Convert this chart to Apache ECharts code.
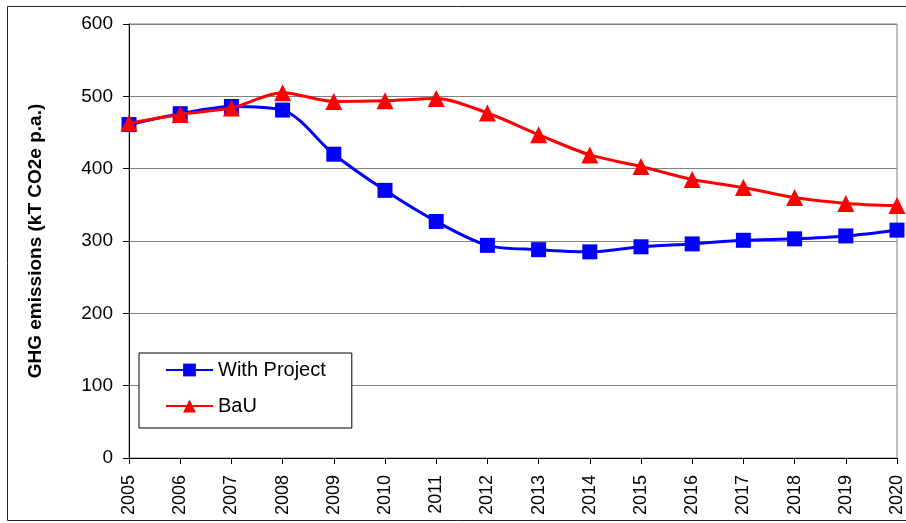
<!DOCTYPE html>
<html>
<head>
<meta charset="utf-8">
<script src="https://cdn.jsdelivr.net/npm/echarts@6/dist/echarts.min.js"></script>
<style>
  html, body { margin: 0; padding: 0; background: #fff; }
  #chart { width: 906px; height: 523px; }
</style>
</head>
<body>
<div id="chart"></div>
<script>
// years on the x axis
const years = ['2005', '2006', '2007', '2008', '2009', '2010', '2011', '2012',
               '2013', '2014', '2015', '2016', '2017', '2018', '2019', '2020'];
// With Project (kT CO2e p.a.)
const withProject = [461, 476, 486, 481, 420, 370, 327, 294,
                     288, 285, 292, 296, 301, 303, 307, 315];
// BaU (kT CO2e p.a.)
const bau = [463, 475, 484, 505, 493, 494, 497, 477,
             447, 419, 403, 385, 374, 360, 352, 349];
const yTicks = { min: 0, max: 600, interval: 100 };

const font = '"Liberation Sans", Arial, sans-serif';
const chart = echarts.init(document.getElementById('chart'));

chart.setOption({
    animation: false,
    backgroundColor: '#fff',
    grid: {
        left: 129,
        top: 24,
        right: 6,
        bottom: 65,
        show: true,
        borderColor: '#808080',
        borderWidth: 1
    },
    // outer chart-area frame
    graphic: [{
        type: 'rect',
        shape: { x: 7.5, y: 6.5, width: 920, height: 514 },
        style: { fill: 'none', stroke: '#222', lineWidth: 1 },
        z: -1
    }],
    legend: {
        orient: 'vertical',
        left: 139,
        top: 353,
        padding: [7, 26, 12, 26],
        itemGap: 16,
        itemWidth: 47,
        itemHeight: 16,
        borderColor: '#000',
        borderWidth: 1,
        backgroundColor: '#fff',
        textStyle: { fontFamily: font, fontSize: 20, color: '#000' },
        data: ['With Project', 'BaU']
    },
    xAxis: {
        type: 'category',
        data: years,
        boundaryGap: false,
        axisLine: { lineStyle: { color: '#000', width: 1 } },
        axisTick: { length: 6, lineStyle: { color: '#000' } },
        axisLabel: {
            rotate: 90,
            margin: 17,
            color: '#000',
            fontFamily: font,
            fontSize: 18,
            interval: 0
        },
        splitLine: { show: false }
    },
    yAxis: {
        type: 'value',
        min: yTicks.min,
        max: yTicks.max,
        interval: yTicks.interval,
        name: 'GHG emissions (kT CO2e p.a.)',
        nameLocation: 'middle',
        nameRotate: 90,
        nameGap: 84,
        nameTextStyle: { fontFamily: font, fontSize: 19, fontWeight: 'bold', color: '#000' },
        axisLine: { show: true, lineStyle: { color: '#000', width: 1 } },
        axisTick: { show: true, length: 6, lineStyle: { color: '#000' } },
        axisLabel: { color: '#000', fontFamily: font, fontSize: 19, margin: 16 },
        splitLine: { lineStyle: { color: '#808080', width: 1 } }
    },
    series: [
        {
            name: 'With Project',
            type: 'line',
            data: withProject,
            smooth: 0.3,
            symbol: 'rect',
            symbolSize: 15,
            itemStyle: { color: '#0000ff' },
            lineStyle: { color: '#0000ff', width: 3 },
            z: 2
        },
        {
            name: 'BaU',
            type: 'line',
            data: bau,
            smooth: 0.3,
            symbol: 'triangle',
            symbolSize: 17,
            itemStyle: { color: '#ff0000' },
            lineStyle: { color: '#ff0000', width: 3 },
            z: 3
        }
    ]
});
</script>
</body>
</html>
